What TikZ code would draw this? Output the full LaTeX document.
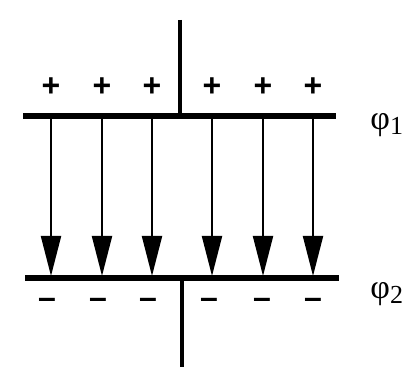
\documentclass[tikz,border=0pt]{standalone}
\usepackage{fontspec}
\setsansfont{Liberation Sans}
\newfontfamily\greekfont{Liberation Serif}
\usetikzlibrary{arrows.meta,positioning}

\tikzset{
    plate/.style={line width=2.6pt},
    lead/.style={line width=2pt},
    fieldline/.style={->, line width=1pt},
    charge/.style={font=\sffamily\bfseries\fontsize{16}{16}\selectfont, inner sep=0pt},
    potential/.style={font=\greekfont\fontsize{17}{19}\selectfont, anchor=west, inner sep=0pt}
}

\begin{document}
\begin{tikzpicture}[x=0.5pt, y=-0.5pt, >={Triangle[length=20pt, width=10pt]}]
    % Frame
    \useasboundingbox (0,0) rectangle (410,367);

    % Plates
    \coordinate (topL) at (23,116);
    \coordinate (topR) at (336,116);
    \coordinate (botL) at (25,278);
    \coordinate (botR) at (339,278);
    \draw[plate] (topL) -- (topR);
    \draw[plate] (botL) -- (botR);

    % Leads
    \coordinate (leadTop) at (180,20);
    \coordinate (joinTop) at (180,116);
    \coordinate (leadBot) at (182,367);
    \coordinate (joinBot) at (182,278);
    \draw[lead] (leadTop) -- (joinTop);
    \draw[lead] (joinBot) -- (leadBot);

    % Field lines and charges
    \foreach \i/\x/\m in {1/51/47, 2/102/98, 3/152/148, 4/212/209, 5/263/262, 6/313/313} {
        \coordinate (top\i) at (\x,117);
        \coordinate (bot\i) at (\x,276);
        \draw[fieldline] (top\i) -- (bot\i);
        \node[charge] (plus\i) at (\x,87) {+};
        \node[charge] (minus\i) at (\m,303) {–};
    }

    % Potentials
    \node[potential] (phi1) at (370,125) {φ\raisebox{-0.35ex}{\fontsize{13}{15}\selectfont 1}};
    \node[potential] (phi2) at (370,294) {φ\raisebox{-0.35ex}{\fontsize{13}{15}\selectfont 2}};

\end{tikzpicture}
\end{document}
